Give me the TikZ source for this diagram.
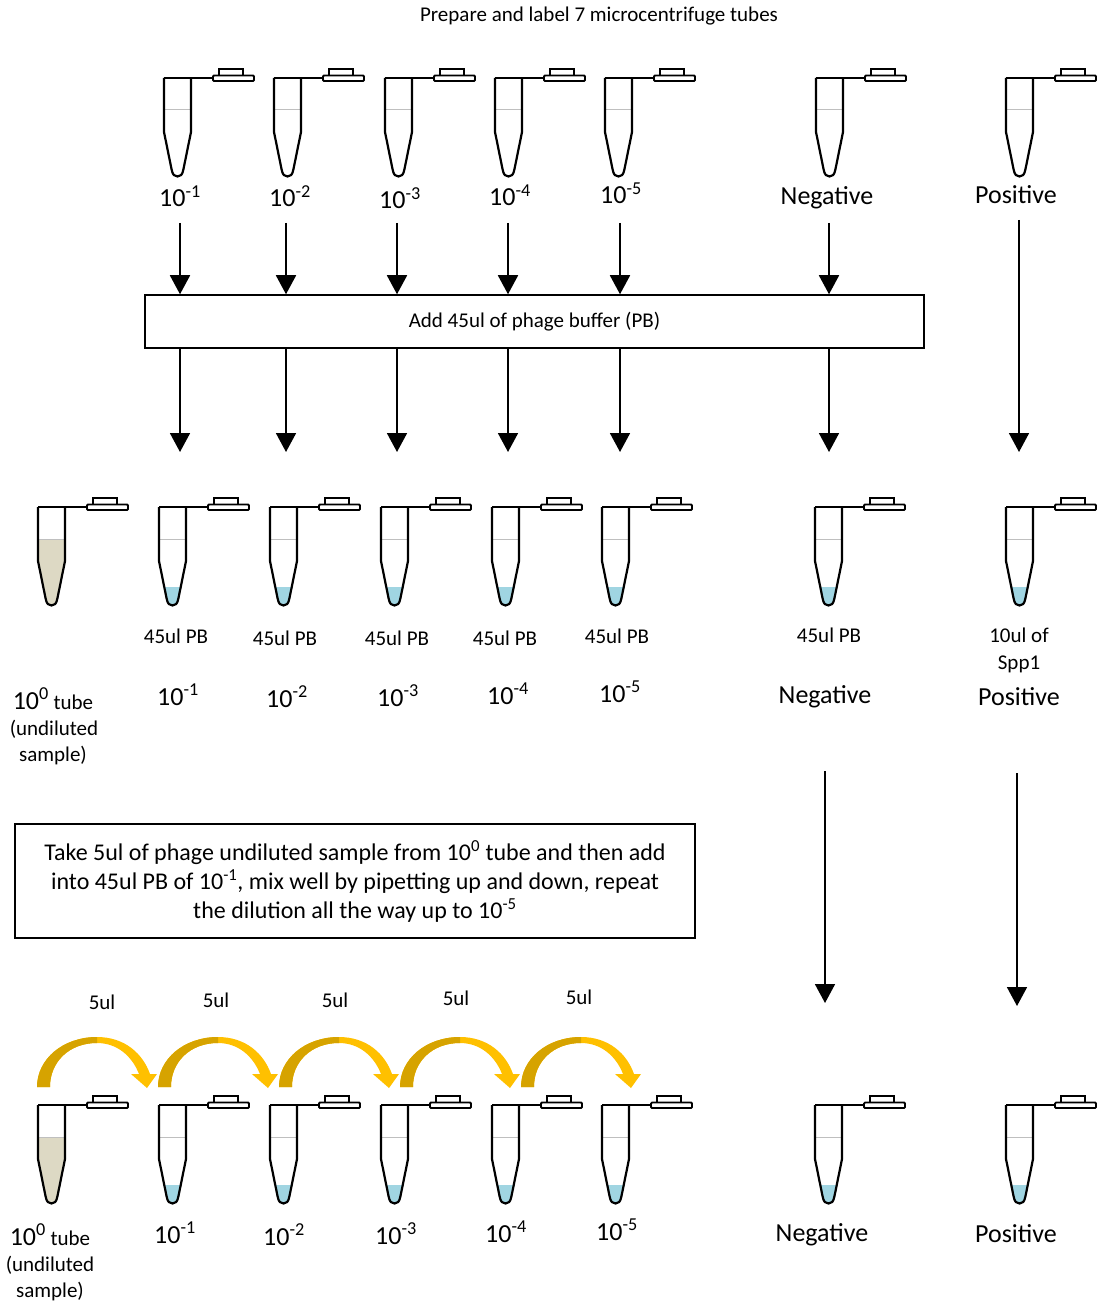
\documentclass[tikz,border=0pt]{standalone}
\usepackage{fontspec}
\setmainfont{Carlito}
\usetikzlibrary{arrows.meta}

\definecolor{buffer}{RGB}{160,213,226}
\definecolor{sample}{RGB}{221,217,196}
\definecolor{golddark}{RGB}{214,163,0}
\definecolor{goldlight}{RGB}{255,192,0}

% outline of a tube body, top left corner at (0,0)
\newcommand{\tubepath}{(0,0) -- (0,54) -- (7.5,91) .. controls (8.6,97) and (10.5,98.5) .. (13.5,98.5) .. controls (16.5,98.5) and (18.4,97) .. (19.5,91) -- (27,54) -- (27,0)}

% \tube{x}{y}{liquid level}{liquid colour}
\newcommand{\tube}[4]{
  \begin{scope}[shift={(#1,#2)}]
    \begin{scope}
      \clip \tubepath -- cycle;
      \fill[#4] (0,#3) rectangle (27,100);
    \end{scope}
    \draw[gray!50, line width=1pt] (0,32) -- (27,32);
    \draw[tubeline] \tubepath;
    \draw[tubeline] (0,0) -- (49,0);
    \draw[capline, fill=white, rounded corners=1pt] (49,-2.5) rectangle (90,3);
    \draw[capline] (55,-2.5) rectangle (79,-9);
  \end{scope}
}

% curved 5ul transfer arrow starting at x
\newcommand{\transfer}[1]{
  \begin{scope}[shift={(#1,0)}]
    \fill[goldlight] (0,1087) .. controls (0,1059) and (26,1037) .. (60,1037)
      .. controls (88,1037) and (106,1054) .. (113,1074) -- (120,1074) -- (110,1088)
      -- (94,1074) -- (102,1074) .. controls (95,1056) and (80,1043) .. (60,1043)
      .. controls (32,1043) and (13,1062) .. (13,1087) -- cycle;
    \fill[golddark] (0,1087) .. controls (0,1059) and (26,1037) .. (60,1037)
      -- (60,1043) .. controls (32,1043) and (13,1062) .. (13,1087) -- cycle;
  \end{scope}
}

\newcommand{\dil}[1]{10\textsuperscript{#1}}

\begin{document}
\begin{tikzpicture}[x=1pt, y=-1pt,
    tubeline/.style={line width=2.2pt, line join=round},
    capline/.style={line width=1.8pt},
    arr/.style={line width=1.8pt, -{Triangle[width=20pt,length=19pt]}},
    big/.style={font=\fontsize{26}{30}\selectfont, anchor=base, inner sep=0pt},
    small/.style={font=\fontsize{21}{26}\selectfont, anchor=base, inner sep=0pt}]
    \useasboundingbox (0,0) rectangle (1097,1305);

    \node[small] (title) at (599,22) {Prepare and label 7 microcentrifuge tubes};

    % empty tubes
    \tube{164}{78}{99}{white}
    \tube{274}{78}{99}{white}
    \tube{385}{78}{99}{white}
    \tube{495}{78}{99}{white}
    \tube{605}{78}{99}{white}
    \tube{816}{78}{99}{white}
    \tube{1006}{78}{99}{white}

    \node[big] (t1) at (180,207) {\dil{-1}};
    \node[big] (t2) at (290,207) {\dil{-2}};
    \node[big] (t3) at (400,209) {\dil{-3}};
    \node[big] (t4) at (510,206) {\dil{-4}};
    \node[big] (t5) at (621,204) {\dil{-5}};
    \node[big] (tneg) at (827,205) {Negative};
    \node[big] (tpos) at (1016,204) {Positive};

    \node[draw, line width=1.5pt, minimum width=779pt, minimum height=53pt, inner sep=0pt,
      font=\fontsize{21}{26}\selectfont] (addbox) at (534.5,321.5) {Add 45ul of phage buffer (PB)};

    \coordinate (s1) at (180,223);
    \coordinate (s2) at (286,223);
    \coordinate (s3) at (397,223);
    \coordinate (s4) at (508,223);
    \coordinate (s5) at (620,223);
    \coordinate (sneg) at (829,223);
    \coordinate (spos) at (1019,220);
    \coordinate (e1) at (180,452);
    \coordinate (e2) at (286,452);
    \coordinate (e3) at (397,452);
    \coordinate (e4) at (508,452);
    \coordinate (e5) at (620,452);
    \coordinate (eneg) at (829,452);
    \coordinate (epos) at (1019,452);

    \draw[arr] (s1) -- (s1 |- addbox.north);
    \draw[arr] (s2) -- (s2 |- addbox.north);
    \draw[arr] (s3) -- (s3 |- addbox.north);
    \draw[arr] (s4) -- (s4 |- addbox.north);
    \draw[arr] (s5) -- (s5 |- addbox.north);
    \draw[arr] (sneg) -- (sneg |- addbox.north);
    \draw[arr] (e1 |- addbox.south) -- (e1);
    \draw[arr] (e2 |- addbox.south) -- (e2);
    \draw[arr] (e3 |- addbox.south) -- (e3);
    \draw[arr] (e4 |- addbox.south) -- (e4);
    \draw[arr] (e5 |- addbox.south) -- (e5);
    \draw[arr] (eneg |- addbox.south) -- (eneg);
    \draw[arr] (spos) -- (epos);

    % tubes with buffer
    \tube{38}{507}{32}{sample}
    \tube{159}{507}{80}{buffer}
    \tube{270}{507}{80}{buffer}
    \tube{381}{507}{80}{buffer}
    \tube{492}{507}{80}{buffer}
    \tube{602}{507}{80}{buffer}
    \tube{815}{507}{80}{buffer}
    \tube{1006}{507}{80}{buffer}

    \node[small] (b1) at (176,643) {45ul PB};
    \node[small] (b2) at (285,645) {45ul PB};
    \node[small] (b3) at (397,645) {45ul PB};
    \node[small] (b4) at (505,645) {45ul PB};
    \node[small] (b5) at (617,643) {45ul PB};
    \node[small] (bneg) at (829,642) {45ul PB};
    \node[small] (bpos) at (1019,642) {10ul of};
    \node[small] (bpos2) at (1019,669) {Spp1};

    \node[big] (m1) at (178,705) {\dil{-1}};
    \node[big] (m2) at (287,707) {\dil{-2}};
    \node[big] (m3) at (398,706) {\dil{-3}};
    \node[big] (m4) at (508,704) {\dil{-4}};
    \node[big] (m5) at (620,702) {\dil{-5}};
    \node[big] (mneg) at (825,703) {Negative};
    \node[big] (mpos) at (1019,705) {Positive};
    \node[small] (m0) at (53,709) {{\fontsize{26}{30}\selectfont\dil{0}} tube};
    \node[small] (m0b) at (54,735) {(undiluted};
    \node[small] (m0c) at (53,761) {sample)};

    \node[draw, line width=1.5pt, minimum width=680pt, minimum height=114pt, inner sep=0pt,
      align=center, font=\fontsize{24}{29}\selectfont] (mixbox) at (355,881)
      {Take 5ul of phage undiluted sample from \dil{0} tube and then add\\
       into 45ul PB of \dil{-1}, mix well by pipetting up and down, repeat\\
       the dilution all the way up to \dil{-5}};

    \coordinate (n1) at (825,771);
    \coordinate (n2) at (825,1003);
    \coordinate (p1) at (1017,773);
    \coordinate (p2) at (1017,1006);
    \draw[arr] (n1) -- (n2);
    \draw[arr] (p1) -- (p2);

    % serial dilution
    \node[small] (v1) at (102,1009) {5ul};
    \node[small] (v2) at (216,1007) {5ul};
    \node[small] (v3) at (335,1007) {5ul};
    \node[small] (v4) at (456,1005) {5ul};
    \node[small] (v5) at (579,1004) {5ul};
    \transfer{37}
    \transfer{158}
    \transfer{279}
    \transfer{400}
    \transfer{521}

    \tube{38}{1105}{32}{sample}
    \tube{159}{1105}{80}{buffer}
    \tube{270}{1105}{80}{buffer}
    \tube{381}{1105}{80}{buffer}
    \tube{492}{1105}{80}{buffer}
    \tube{602}{1105}{80}{buffer}
    \tube{815}{1105}{80}{buffer}
    \tube{1006}{1105}{80}{buffer}

    \node[big] (d1) at (175,1243) {\dil{-1}};
    \node[big] (d2) at (284,1245) {\dil{-2}};
    \node[big] (d3) at (396,1244) {\dil{-3}};
    \node[big] (d4) at (506,1242) {\dil{-4}};
    \node[big] (d5) at (617,1240) {\dil{-5}};
    \node[big] (dneg) at (822,1241) {Negative};
    \node[big] (dpos) at (1016,1242) {Positive};
    \node[small] (d0) at (50,1245) {{\fontsize{26}{30}\selectfont\dil{0}} tube};
    \node[small] (d0b) at (50,1271) {(undiluted};
    \node[small] (d0c) at (50,1297) {sample)};
\end{tikzpicture}
\end{document}
